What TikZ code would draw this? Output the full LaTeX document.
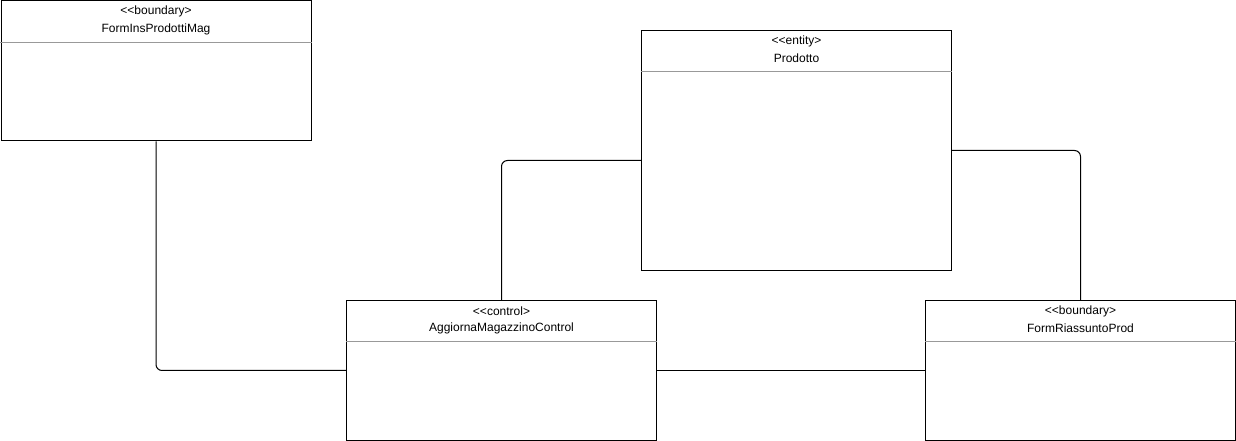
\documentclass[tikz,border=0pt]{standalone}
\usepackage{fontspec}
\setmainfont{Liberation Sans}
\usetikzlibrary{positioning}

\tikzset{
  umlbox/.style={draw, line width=0.75pt, rectangle, anchor=north west,
    minimum width=232.5pt, minimum height=105pt, inner sep=0pt},
  bigbox/.style={umlbox, minimum height=180pt},
  stereo/.style={font=\fontsize{9}{11}\selectfont, inner sep=0pt},
  sep/.style={draw=gray!80, line width=0.75pt},
  conn/.style={draw, line width=0.75pt, rounded corners=4.5pt}
}

\begin{document}
\begin{tikzpicture}[x=0.75pt,y=-0.75pt]
  \useasboundingbox (0,0) rectangle (1236,441);

  \node[umlbox] (FormIns)   at (0.5,0.5)   {};
  \node[bigbox] (Prodotto)  at (641,30)    {};
  \node[umlbox] (Control)   at (346,300)   {};
  \node[umlbox] (FormRiass) at (925,300)   {};

  % titles
  \foreach \n/\s/\t in {FormIns/boundary/FormInsProdottiMag,
                        Prodotto/entity/Prodotto,
                        Control/control/AggiornaMagazzinoControl,
                        FormRiass/boundary/FormRiassuntoProd} {
    \node[stereo] at ([yshift=-8.5pt]\n.north) {<\kern0pt<\s>};
    \node[stereo] at ([yshift=-21.5pt]\n.north) {\t};
    \draw[sep] ([yshift=-31.5pt]\n.north west) -- ([yshift=-31.5pt]\n.north east);
  }

  % associations
  \draw[conn] (FormIns.south) |- (Control.west);
  \draw[conn] (Control.north) |- ([yshift=-7.5pt]Prodotto.west);
  \draw[conn] (Prodotto.east) -| (FormRiass.north);
  \draw[conn] (Control.east) -- (FormRiass.west);
\end{tikzpicture}
\end{document}
